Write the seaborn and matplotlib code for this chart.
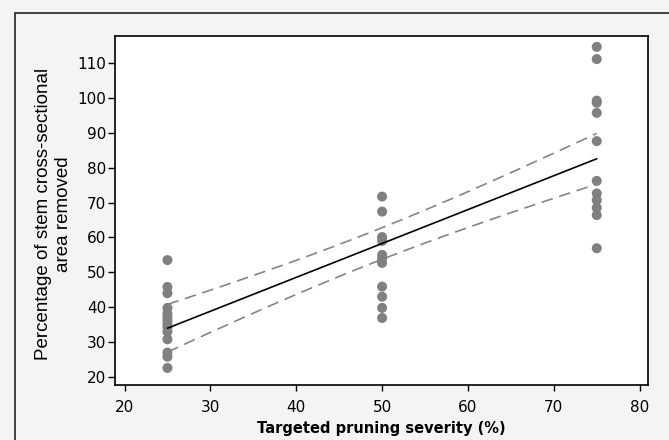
import numpy as np
import pandas as pd
import matplotlib
matplotlib.use("Agg")
import matplotlib.pyplot as plt
import seaborn as sns
from matplotlib.patches import Rectangle
from scipy import stats

# ── Data ──
sev_25 = [53.5, 45.8, 44.0, 39.8, 38.2, 37.2, 36.2, 35.2, 34.2, 33.0, 30.8, 27.0, 25.8, 22.6]
sev_50 = [71.7, 67.4, 60.1, 59.0, 55.0, 54.0, 52.7, 45.9, 43.0, 39.8, 36.9]
sev_75 = [114.6, 111.1, 99.2, 98.6, 95.7, 87.6, 76.2, 72.6, 70.7, 68.5, 66.4, 56.9]

severity = [25] * len(sev_25) + [50] * len(sev_50) + [75] * len(sev_75)
removed = sev_25 + sev_50 + sev_75
df = pd.DataFrame({"severity": severity, "removed": removed})

x_ticks = [20, 30, 40, 50, 60, 70, 80]
y_ticks = [20, 30, 40, 50, 60, 70, 80, 90, 100, 110]

sns.set_style("white")
plt.rcParams["font.family"] = ["DejaVu Sans"]
plt.rcParams["text.color"] = "black"
plt.rcParams["axes.labelcolor"] = "black"
plt.rcParams["xtick.color"] = "black"
plt.rcParams["ytick.color"] = "black"

fig = plt.figure(figsize=(6.69, 4.40), dpi=100, facecolor="#f4f4f4")
ax = fig.add_axes([0.172, 0.125, 0.797, 0.793])
ax.set_facecolor("white")

# outer frame of the chart area
fig.patches.append(Rectangle((15 / 669, -0.2), 2.0, 1.2 - 13 / 440,
                             transform=fig.transFigure, fill=False,
                             edgecolor="#222222", linewidth=1.2, zorder=0))

sns.scatterplot(data=df, x="severity", y="removed", color="#808080",
                s=52, edgecolor="none", ax=ax, zorder=3)

# linear fit with 95% confidence band
x = df["severity"].to_numpy(float)
y = df["removed"].to_numpy(float)
n = len(x)
b, a = np.polyfit(x, y, 1)
xs = np.linspace(25, 75, 60)
fit = a + b * xs
resid = y - (a + b * x)
s = np.sqrt(np.sum(resid ** 2) / (n - 2))
sxx = np.sum((x - x.mean()) ** 2)
se = s * np.sqrt(1 / n + (xs - x.mean()) ** 2 / sxx)
t = stats.t.ppf(0.975, n - 2)

sns.lineplot(x=xs, y=fit, color="black", linewidth=1.2, ax=ax, zorder=4)
ax.plot(xs, fit + t * se, color="#858585", linewidth=1.2, dashes=(7, 4), zorder=4)
ax.plot(xs, fit - t * se, color="#858585", linewidth=1.2, dashes=(7, 4), zorder=4)

ax.set_xlim(18.9, 81.0)
ax.set_ylim(17.7, 117.7)
ax.set_xticks(x_ticks)
ax.set_yticks(y_ticks)
ax.tick_params(axis="both", direction="out", width=1, labelsize=11,
               bottom=True, left=True)
ax.tick_params(axis="x", length=4.5, pad=6)
ax.tick_params(axis="y", length=5, pad=1.5)

for sp in ax.spines.values():
    sp.set_linewidth(1.2)
    sp.set_color("black")

ax.set_xlabel("Targeted pruning severity (%)", fontsize=10.5, fontweight="bold")
ax.xaxis.set_label_coords(0.5, -0.103)
ax.set_ylabel("Percentage of stem cross-sectional\narea removed",
              fontsize=13.5, family="Liberation Sans", linespacing=1.2)
ax.yaxis.set_label_coords(-0.081, 0.49)

fig.savefig("out.png", dpi=100, facecolor=fig.get_facecolor())
plt.close(fig)
